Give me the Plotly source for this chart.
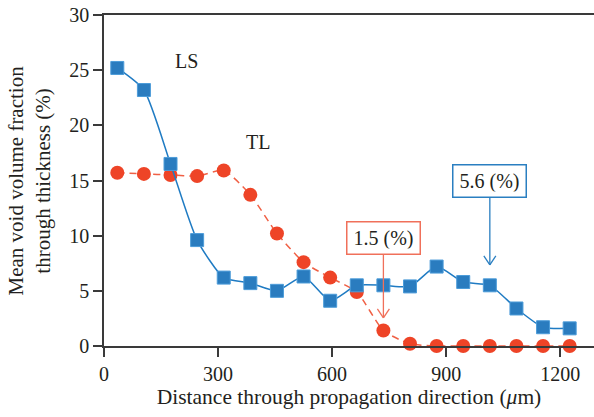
import plotly.graph_objects as go

# Data
distance = [35, 105, 175, 245, 315, 385, 455, 525, 595, 665, 735, 805, 875, 945, 1015, 1085, 1155, 1225]
ls_values = [25.2, 23.2, 16.5, 9.6, 6.2, 5.7, 5.0, 6.3, 4.1, 5.5, 5.5, 5.4, 7.2, 5.8, 5.5, 3.4, 1.7, 1.6]
tl_values = [15.7, 15.6, 15.5, 15.4, 15.9, 13.7, 10.2, 7.6, 6.2, 4.9, 1.4, 0.2, 0, 0, 0, 0, 0, 0]

x_ticks = [0, 300, 600, 900, 1200]
y_ticks = [0, 5, 10, 15, 20, 25, 30]

series_labels = ["LS", "TL"]
callout_texts = ["1.5 (%)", "5.6 (%)"]
callout_x = [735, 1015]

FONT = "Liberation Serif"
TXT = "#231F20"
BLUE = "#1F7BC3"
BLUE_FILL = "#2A7CBF"
BLUE_EDGE = "#4C9CD9"
RED = "#EE4427"
RED_LINE = "#F06045"
AX = "#3A3A3A"

fig = go.Figure()

fig.add_trace(go.Scatter(
    x=distance, y=tl_values, mode="lines+markers", name="TL",
    line=dict(color=RED_LINE, width=1.5, dash="7px,5px", shape="spline", smoothing=0.6),
    marker=dict(symbol="circle", size=14, color=RED, line=dict(width=0)),
    cliponaxis=False, showlegend=False,
))
fig.add_trace(go.Scatter(
    x=distance, y=ls_values, mode="lines+markers", name="LS",
    line=dict(color=BLUE, width=1.5, shape="spline", smoothing=0.6),
    marker=dict(symbol="square", size=13, color=BLUE_FILL, line=dict(width=1, color=BLUE_EDGE)),
    cliponaxis=False, showlegend=False,
))

# Series labels
fig.add_annotation(x=218, y=25.8, text=series_labels[0], showarrow=False,
                   font=dict(family=FONT, size=20, color=TXT))
fig.add_annotation(x=405, y=18.5, text=series_labels[1], showarrow=False,
                   font=dict(family=FONT, size=20, color=TXT))

# Callouts: box + stem arrow + open V head
callouts = [
    dict(text=callout_texts[0], x=callout_x[0], tip=2.55, box=9.8, color="#F0705A"),
    dict(text=callout_texts[1], x=callout_x[1], tip=7.35, box=14.95, color="#2A7FC1"),
]
for c in callouts:
    fig.add_annotation(
        x=c["x"], y=c["tip"], ax=c["x"], ay=c["box"], axref="x", ayref="y",
        text=c["text"], showarrow=True, arrowhead=0, arrowwidth=1.3, arrowcolor=c["color"],
        standoff=0, startstandoff=0,
        font=dict(family=FONT, size=20, color=TXT),
        bordercolor=c["color"], borderwidth=1.5, borderpad=5, bgcolor="white",
        width=62, height=21,
    )
    for dx in (-6, 6):
        fig.add_shape(type="line", xref="x", yref="y", xsizemode="pixel", ysizemode="pixel",
                      xanchor=c["x"], yanchor=c["tip"], x0=0, y0=0, x1=dx, y1=9,
                      line=dict(color=c["color"], width=1.3))

# Y-axis title as annotation (two lines)
fig.add_annotation(
    xref="paper", yref="paper", x=0, y=0.5, xshift=-75, xanchor="center", yanchor="middle",
    text="Mean void volume fraction<br>through thickness (%)", textangle=-90, showarrow=False,
    font=dict(family=FONT, size=21, color=TXT),
)

fig.update_xaxes(
    range=[0, 1289], tickvals=x_ticks, ticktext=[str(v) for v in x_ticks],
    showgrid=False, zeroline=False, showline=True, linecolor=AX, linewidth=1.5, mirror=True,
    ticks="outside", ticklen=9, tickwidth=1.5, tickcolor=AX,
    tickfont=dict(family=FONT, size=20, color=TXT),
    title=dict(text="Distance through propagation direction (<i>μ</i>m)", standoff=5,
               font=dict(family=FONT, size=21.5, color=TXT)),
)
fig.update_yaxes(
    range=[0, 30], tickvals=y_ticks, ticktext=[str(v) for v in y_ticks],
    showgrid=False, zeroline=False, showline=True, linecolor=AX, linewidth=1.5,
    ticks="outside", ticklen=9, tickwidth=1.5, tickcolor=AX,
    tickfont=dict(family=FONT, size=20, color=TXT),
)

fig.update_layout(
    width=594, height=417, margin=dict(l=104, r=0, t=15, b=71),
    plot_bgcolor="white", paper_bgcolor="white",
)

fig.write_html("out.html")
